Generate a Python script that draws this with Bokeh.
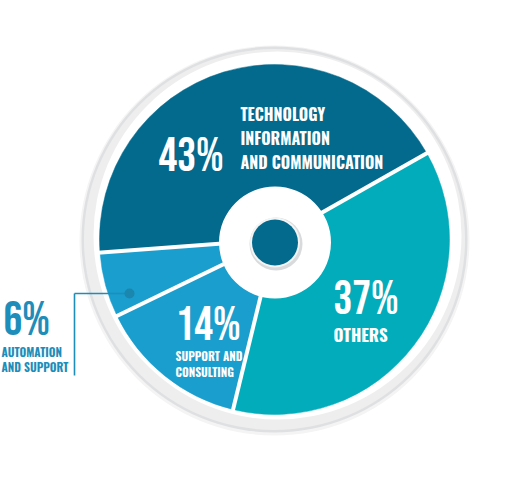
import numpy as np
from bokeh.plotting import figure
from bokeh.models import Range1d, ColumnDataSource
from bokeh.core.properties import value
from bokeh.embed import file_html
from bokeh.resources import INLINE

# ---- data -------------------------------------------------------------
categories = ["Technology information and communication", "Automation and support",
              "Support and consulting", "Others"]
shares = [43, 6, 14, 37]
slice_colors = ["#046A8D", "#1A9ECE", "#1A9ECE", "#03ACBA"]
pct_labels = ["43%", "6%", "14%", "37%"]
name_lines = [["TECHNOLOGY", "INFORMATION", "AND COMMUNICATION"],
              ["AUTOMATION", "AND SUPPORT"],
              ["SUPPORT AND", "CONSULTING"],
              ["OTHERS"]]

# ---- layout (page pixels, y measured downward) ------------------------
W, H = 515, 481
CX, CY = 274, 239          # pie centre
R_PIE = 175
R_RING = 193
HUB = (274.5, 242)         # hub centre
START_DEG = 29.5

PCT_FONT = value("Bebas Neue, Oswald, DejaVu Sans Condensed, sans-serif")
NAME_FONT = value("Oswald, Roboto Condensed, DejaVu Sans Condensed, sans-serif")


def fy(y):
    return H - y


p = figure(width=W, height=H, output_backend="svg", toolbar_location=None,
           x_range=Range1d(0, W), y_range=Range1d(0, H), min_border=0)
p.axis.visible = False
p.grid.visible = False
p.outline_line_color = None
p.background_fill_color = "white"
p.border_fill_color = "white"

# outer ring with soft grey shading
p.circle(x=[CX], y=[fy(CY) - 1], radius=R_RING + 2, fill_color="#F4F4F5", line_color=None)
p.circle(x=[CX], y=[fy(CY)], radius=R_RING, fill_color="#DFE0E2", line_color=None)
p.circle(x=[CX], y=[fy(CY)], radius=R_RING - 2.5, fill_color="#EEEEEF", line_color=None)
p.circle(x=[CX + 3], y=[fy(CY) + 4], radius=R_RING - 9, fill_color="#FFFFFF", line_color=None)

# slices
vals = np.array(shares, dtype=float)
fracs = vals / vals.sum()
starts = np.deg2rad(START_DEG) + 2 * np.pi * np.concatenate([[0], np.cumsum(fracs)[:-1]])
ends = starts + 2 * np.pi * fracs
src = ColumnDataSource(dict(start=starts, end=ends, color=slice_colors, name=categories))
p.wedge(x=CX, y=fy(CY), radius=R_PIE, start_angle="start", end_angle="end",
        fill_color="color", line_color="color", line_width=0.5, source=src)

# white separators between slices
xs = [[CX, CX + (R_PIE + 2) * np.cos(a)] for a in starts]
ys = [[fy(CY), fy(CY) + (R_PIE + 2) * np.sin(a)] for a in starts]
p.multi_line(xs=xs, ys=ys, line_color="white", line_width=4)

# hub
p.circle(x=[HUB[0]], y=[fy(HUB[1])], radius=56, fill_color="white", line_color=None)
p.circle(x=[HUB[0] + 1], y=[fy(HUB[1]) - 1.5], radius=26.5, fill_color="#D9DADC", line_color=None)
p.circle(x=[HUB[0]], y=[fy(HUB[1])], radius=25, fill_color="#F4F4F4", line_color=None)
p.circle(x=[HUB[0]], y=[fy(HUB[1])], radius=23, fill_color=slice_colors[0], line_color=None)

# leader for the small slice
LEAD = "#1E8DB9"
p.line(x=[74, 74], y=[fy(293), fy(375)], line_color=LEAD, line_width=1.6)
p.line(x=[74, 129], y=[fy(293), fy(293)], line_color=LEAD, line_width=1.6)
p.circle(x=[129], y=[fy(293)], radius=5, fill_color="#1B86AE", line_color=None)


def pct(txt, x, y, color, size=47):
    # y is the baseline; lift to offset the font's line box
    p.text(x=[x], y=[fy(y - 0.36 * size)], text=[txt], text_font=PCT_FONT,
           text_font_style="normal", text_font_size=f"{size}px", text_color=color,
           text_baseline="alphabetic", text_align="left")


def name(txt, x, y, size, color):
    p.text(x=[x], y=[fy(y - 0.42 * size)], text=[txt], text_font=NAME_FONT,
           text_font_style="bold", text_font_size=f"{size}px", text_color=color,
           text_baseline="alphabetic", text_align="left")


# Technology
pct(pct_labels[0], 158, 173, "white")
for i, t in enumerate(name_lines[0]):
    name(t, 240, 120 + 24 * i, 16, "white")
# Automation (outside the pie)
pct(pct_labels[1], 3, 337, LEAD)
for i, t in enumerate(name_lines[1]):
    name(t, 1, 356 + 15 * i, 11.5, LEAD)
# Support and consulting
pct(pct_labels[2], 175, 342, "white")
for i, t in enumerate(name_lines[2]):
    name(t, 175, 360 + 16 * i, 11.5, "white")
# Others
pct(pct_labels[3], 333, 316, "white")
name(name_lines[3][0], 333, 341, 17, "white")

open("out.html", "w").write(file_html(p, INLINE))
